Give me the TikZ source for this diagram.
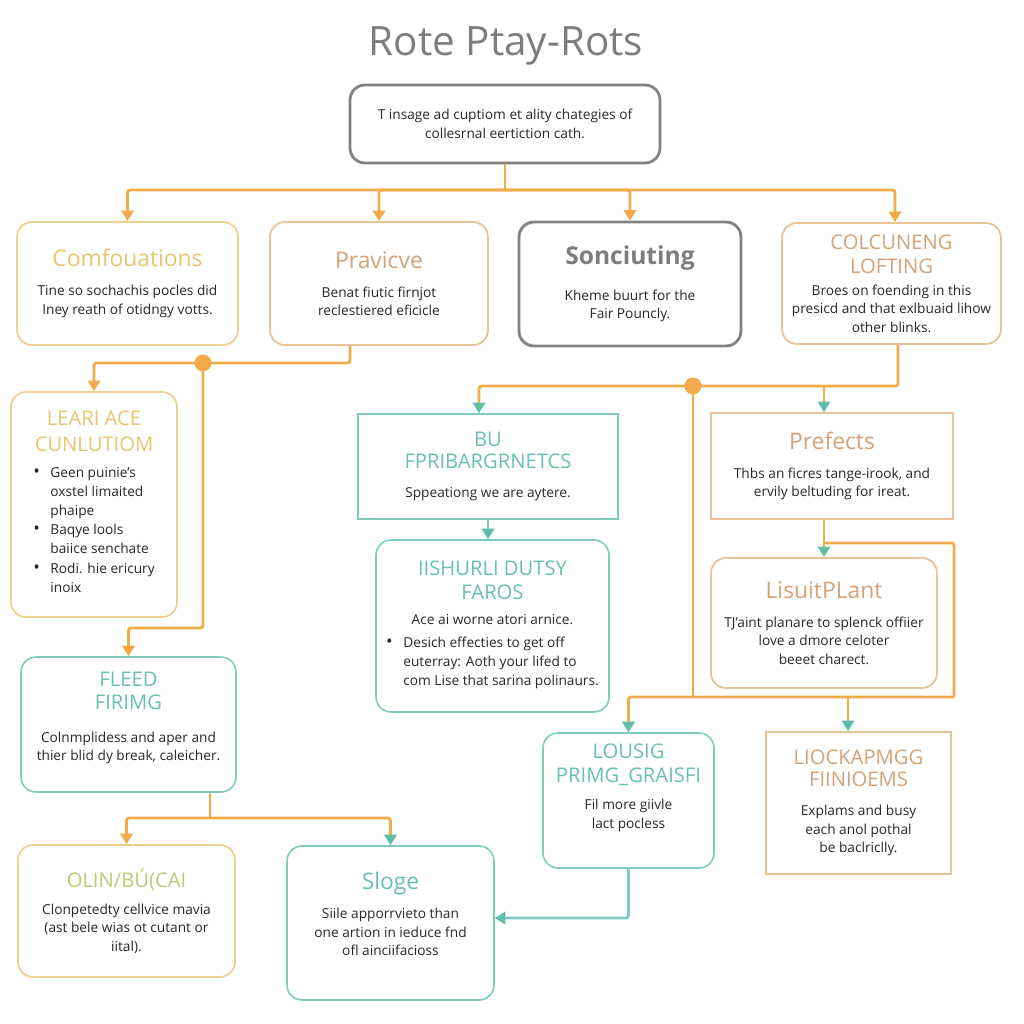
\documentclass[tikz,border=0pt]{standalone}
\usepackage{fontspec}
\setmainfont{Open Sans}
\usetikzlibrary{arrows.meta,positioning,calc}

\definecolor{lineor}{RGB}{242,170,74}
\definecolor{tealln}{RGB}{125,204,190}
\definecolor{tealhd}{RGB}{105,192,178}
\definecolor{tealtp}{RGB}{95,190,170}
\definecolor{goldln}{RGB}{238,208,145}
\definecolor{goldhd}{RGB}{230,198,110}
\definecolor{tanln}{RGB}{232,194,152}
\definecolor{tanhd}{RGB}{212,162,120}
\definecolor{grayln}{RGB}{130,130,130}
\definecolor{grayhd}{RGB}{125,125,125}
\definecolor{olivehd}{RGB}{184,204,118}
\definecolor{txt}{RGB}{40,40,40}

\newcommand\boxhead[2]{{\color{#1}\fontsize{13}{15}\selectfont #2}}
\newcommand\capshead[2]{{\color{#1}\fontsize{11.5}{13.5}\selectfont #2}}
\newcommand\bul{{\fontsize{10}{10}\selectfont\textbullet}}

\begin{document}
\begin{tikzpicture}[x=0.02cm,y=-0.02cm,>={Triangle[length=6pt,width=7pt]},
  every node/.style={font=\fontsize{7.8}{10.5}\selectfont,align=center,text=txt},
  rbox/.style={draw,rounded corners=3mm,line width=1pt,inner sep=2pt},
  sbox/.style={draw,line width=1pt,inner sep=2pt},
  oline/.style={draw=lineor,line width=1.6pt,rounded corners=1.5pt},
  tline/.style={draw=tealln,line width=1.6pt,rounded corners=1.5pt},
  tarr/.style={-{Triangle[length=6pt,width=7pt,color=tealtp]}},
  jdot/.style={circle,fill=lineor,inner sep=0pt,minimum size=0.34cm}]
\useasboundingbox[fill=white] (0,0) rectangle (1024,1024);

\node[font=\fontsize{23}{26}\selectfont,text=grayhd] (title) at (506,46) {Rote Ptay-Rots};
\node[rbox,draw=grayln,line width=1.6pt,minimum width=6.2cm,minimum height=1.56cm] (top) at (505,124)
  {T insage ad cuptiom et ality chategies of\\collesrnal eertiction cath.};

% first row
\node[rbox,draw=goldln,minimum width=4.42cm,minimum height=2.46cm] (comf) at (127.5,283.5)
  {\boxhead{goldhd}{Comfouations}\\[6pt]Tine so sochachis pocles did\\Iney reath of otidngy votts.};
\node[rbox,draw=tanln,minimum width=4.36cm,minimum height=2.46cm] (prav) at (379,283.5)
  {\boxhead{tanhd}{Pravicve}\\[6pt]Benat fiutic firnjot\\reclestiered eficicle};
\node[rbox,draw=grayln,line width=1.6pt,minimum width=4.44cm,minimum height=2.48cm] (sonc) at (630,284)
  {{\color{grayhd}\fontsize{14}{16}\selectfont\bfseries Sonciuting}\\[10pt]Kheme buurt for the\\Fair Pouncly.};
\node[rbox,draw=tanln,minimum width=4.38cm,minimum height=2.42cm] (colc) at (891.5,283.5)
  {\capshead{tanhd}{COLCUNENG}\\[3pt]\capshead{tanhd}{LOFTING}\\[2pt]Broes on foending in this\\presicd and that exlbuaid lihow\\other blinks.};

% left column
\node[rbox,draw=goldln,minimum width=3.32cm,minimum height=4.5cm] (leari) at (94,504.5)
  {\capshead{goldhd}{LEARI ACE}\\[4pt]\capshead{goldhd}{CUNLUTIOM}\\[6pt]
   {\renewcommand\arraystretch{1.04}\begin{tabular}{@{}l@{\hspace{6pt}}l@{}}
   \bul&Geen puinie's\\&oxstel limaited\\&phaipe\\
   \bul&Baqye lools\\&baiice senchate\\
   \bul&Rodi. hie ericury\\&inoix\end{tabular}}};
\node[rbox,draw=tealln,line width=0.9pt,minimum width=4.3cm,minimum height=2.7cm] (fleed) at (128.5,724.5) {};
\node (fleed-t) at (128.5,718)
  {\capshead{tealhd}{FLEED}\\[3pt]\capshead{tealhd}{FIRIMG}\\[8pt]Colnmplidess and aper and\\thier blid dy break, caleicher.};
\node[rbox,draw=goldln,minimum width=4.34cm,minimum height=2.64cm] (olin) at (126.5,911)
  {\capshead{olivehd}{OLIN/BÚ(CAI}\\[5pt]Clonpetedty cellvice mavia\\(ast bele wias ot cutant or\\iital).};
\node[rbox,draw=tealln,line width=0.9pt,minimum width=4.14cm,minimum height=3.08cm] (sloge) at (390.5,923) {};
\node (sloge-t) at (390.5,914)
  {\boxhead{tealhd}{Sloge}\\[6pt]Siile apporrvieto than\\one artion in ieduce fnd\\ofl ainciifacioss};

% middle column
\node[sbox,draw=tealln,line width=0.9pt,minimum width=5.2cm,minimum height=2.1cm] (bu) at (488,466.5)
  {\capshead{tealhd}{BU}\\[2pt]\capshead{tealhd}{FPRIBARGRNETCS}\\[6pt]Sppeationg we are aytere.};
\node[rbox,draw=tealln,line width=0.9pt,minimum width=4.66cm,minimum height=3.44cm] (ishurli) at (492.5,626)
  {\capshead{tealhd}{IISHURLI DUTSY}\\[3pt]\capshead{tealhd}{FAROS}\\[4pt]Ace ai worne atori arnice.\\[4pt]
   {\renewcommand\arraystretch{1.04}\begin{tabular}{@{}l@{\hspace{6pt}}l@{}}
   \bul&Desich effecties to get off\\&euterray: Aoth your lifed to\\&com Lise that sarina polinaurs.\end{tabular}}};
\node[rbox,draw=tealln,line width=0.9pt,minimum width=3.42cm,minimum height=2.7cm] (lousic) at (628.5,800.5) {};
\node (lousic-t) at (628.5,788)
  {\capshead{tealhd}{LOUSIG}\\[3pt]\capshead{tealhd}{PRIMG\_GRAISFI}\\[5pt]Fil more giivle\\lact pocless};

% right column
\node[sbox,draw=tanln,minimum width=4.84cm,minimum height=2.12cm] (pref) at (832,466)
  {\boxhead{tanhd}{Prefects}\\[6pt]Thbs an ficres tange-irook, and\\ervily beltuding for ireat.};
\node[rbox,draw=tanln,minimum width=4.52cm,minimum height=2.6cm] (lisuit) at (824,623)
  {\boxhead{tanhd}{LisuitPLant}\\[6pt]TJ'aint planare to splenck offiier\\love a dmore celoter\\beeet charect.};
\node[sbox,draw=tanln,minimum width=3.7cm,minimum height=2.84cm] (lock) at (858.5,803)
  {\capshead{tanhd}{LIOCKAPMGG}\\[2pt]\capshead{tanhd}{FIINIOEMS}\\[6pt]Explams and busy\\each anol pothal\\be baclriclly.};

% top fan-out
\coordinate (t1) at (505,190);
\draw[oline] (top.south) -- (t1);
\draw[oline,->] (t1) -| (comf.north);
\draw[oline,->] (t1) -| (prav.north);
\draw[oline,->] (t1) -| (sonc.north);
\draw[oline,->] (t1) -| ([xshift=0.07cm]colc.north);

% left branch
\node[jdot] (d1) at (203,363) {};
\coordinate (k1) at (0,628);
\draw[oline,->] ([xshift=-0.58cm]prav.south) |- (d1.center) -| (leari.north);
\draw[oline,->] (d1.center) |- (fleed.north |- k1) -- (fleed.north);
\coordinate (f1) at (210,818);
\draw[oline] (fleed.south -| f1) -- (f1);
\draw[oline,->] (f1) -| (olin.north);
\draw[oline,tarr] (f1) -| (sloge.north);

% right branch
\coordinate (c1) at (898,386);
\node[jdot] (d2) at (693,386) {};
\draw[oline,tarr] (colc.south -| c1) |- (d2.center) -| ([xshift=-0.18cm]bu.north);
\draw[tline,tarr] (bu.south) -- (bu.south |- ishurli.north);
\coordinate (p1) at (824,386);
\draw[oline,tarr] (p1) -- (p1 |- pref.north);
\draw[oline,tarr] (p1 |- pref.south) -- (p1 |- lisuit.north);
\coordinate (p2) at (824,543);
\coordinate (r1) at (954,697);
\draw[oline] (p2) -| (r1);
\draw[oline,tarr] (r1) -| (lousic.north);
\draw[oline] (d2.center) -- (d2.center |- r1);
\coordinate (r2) at (848,697);
\draw[oline,tarr] (r2) -- (r2 |- lock.north);
\draw[tline,tarr] (lousic.south) |- ([yshift=0.1cm]sloge.east);
\end{tikzpicture}
\end{document}
